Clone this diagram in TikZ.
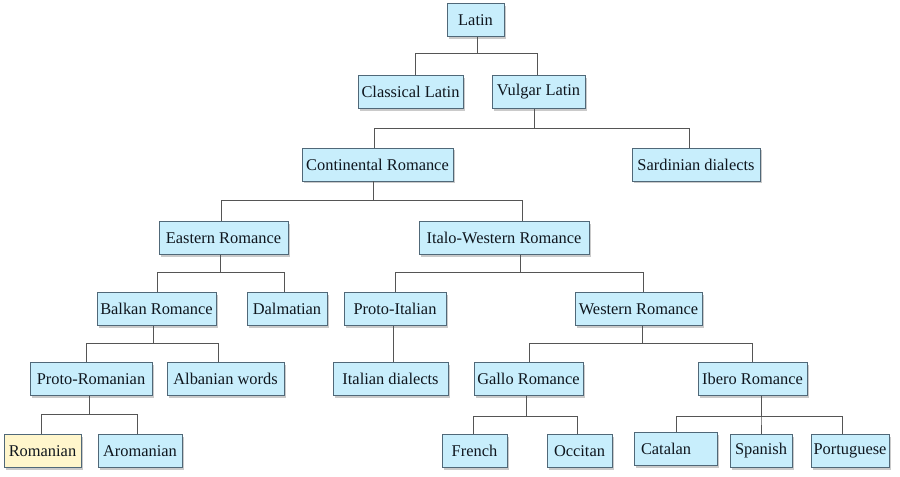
\documentclass[tikz,border=0pt]{standalone}
\usepackage{fontspec}
\setmainfont{Liberation Serif}
\usetikzlibrary{shadows}
\definecolor{boxfill}{RGB}{200,238,252}
\definecolor{boxline}{RGB}{80,104,120}
\definecolor{yfill}{RGB}{255,246,204}
\definecolor{linkc}{RGB}{85,85,85}
\definecolor{txt}{RGB}{15,22,30}
\tikzset{
  lang/.style={draw=boxline, line width=0.7pt, fill=boxfill, text=txt,
    inner sep=0pt, minimum height=33*0.75pt, font=\fontsize{12.3}{14}\selectfont,
    drop shadow={shadow xshift=1.8pt, shadow yshift=-1.8pt, opacity=0.35, fill=black!60}},
  bw/.style={minimum width=#1*0.75pt},
  link/.style={draw=linkc, line width=0.7pt}
}
\newcommand\branch[5]{\draw[link] ([xshift=#3*0.75pt]#1.south) -- ++(0,#4) -| ([xshift=#5*0.75pt]#2.north);}
\begin{document}
\begin{tikzpicture}[x=0.75pt,y=-0.75pt]
\useasboundingbox (0,0) rectangle (900,477);
\node[lang,bw=57] (latin) at (475.5,20) {Latin};
\node[lang,bw=105] (classical) at (410.5,92) {Classical Latin};
\node[lang,bw=93] (vulgar) at (538.5,92) {Vulgar Latin};
\node[lang,bw=151] (continental) at (377.5,164.5) {Continental Romance};
\node[lang,bw=128] (sardinian) at (696,164.5) {Sardinian dialects};
\node[lang,bw=129] (eastern) at (223.5,238) {Eastern Romance};
\node[lang,bw=170] (italo) at (504,238) {Italo-Western Romance};
\node[lang,bw=119] (balkan) at (156.5,309) {Balkan Romance};
\node[lang,bw=80] (dalmatian) at (287,309) {Dalmatian};
\node[lang,bw=102] (protoitalian) at (395,309) {Proto-Italian};
\node[lang,bw=127] (western) at (638.5,309) {Western Romance};
\node[lang,bw=122] (protoromanian) at (91,379) {Proto-Romanian};
\node[lang,bw=117] (albanian) at (225.5,379) {Albanian words};
\node[lang,bw=115] (italiandialects) at (390.5,379) {Italian dialects};
\node[lang,bw=109] (gallo) at (528.5,379) {Gallo Romance};
\node[lang,bw=109] (ibero) at (752.5,379) {Ibero Romance};
\node[lang,bw=77,fill=yfill] (romanian) at (42.5,451) {Romanian};
\node[lang,bw=84] (aromanian) at (140,451) {Aromanian};
\node[lang,bw=65] (french) at (474.5,451) {French};
\node[lang,bw=65] (occitan) at (579.5,451) {Occitan};
\node[lang,inner xsep=7*0.75pt,text width=69*0.75pt,align=left] (catalan) at (675.5,449) {Catalan};
\node[lang,bw=62] (spanish) at (761,451) {Spanish};
\node[lang,bw=78] (portuguese) at (850,451) {Portuguese};
\branch{latin}{classical}{1.5}{16.5}{4.5}
\branch{latin}{vulgar}{1.5}{16.5}{-1.5}
\branch{vulgar}{continental}{-4.5}{19.5}{-3.5}
\branch{vulgar}{sardinian}{-4.5}{19.5}{-7}
\branch{continental}{eastern}{-4.5}{19}{-2.5}
\branch{continental}{italo}{-4.5}{19}{18}
\branch{eastern}{balkan}{-3.5}{17.5}{0.5}
\branch{eastern}{dalmatian}{-3.5}{17.5}{-3}
\branch{italo}{protoitalian}{16}{17.5}{0}
\branch{italo}{western}{16}{17.5}{4.5}
\branch{balkan}{protoromanian}{-3.5}{17.5}{-5}
\branch{balkan}{albanian}{-3.5}{17.5}{-7.5}
\draw[link] ([xshift=-2*0.75pt]protoitalian.south) -- ([xshift=-2*0.75pt]protoitalian.south |- italiandialects.north);
\branch{western}{gallo}{3.5}{17.5}{0.5}
\branch{western}{ibero}{3.5}{17.5}{-0.5}
\branch{protoromanian}{romanian}{-2}{18.5}{-1.5}
\branch{protoromanian}{aromanian}{-2}{18.5}{-3}
\branch{gallo}{french}{-2.5}{20.5}{-1.5}
\branch{gallo}{occitan}{-2.5}{20.5}{-2.5}
\branch{ibero}{catalan}{8.5}{20.5}{0.5}
\branch{ibero}{spanish}{8.5}{20.5}{0}
\branch{ibero}{portuguese}{8.5}{20.5}{-8}
\end{tikzpicture}
\end{document}
